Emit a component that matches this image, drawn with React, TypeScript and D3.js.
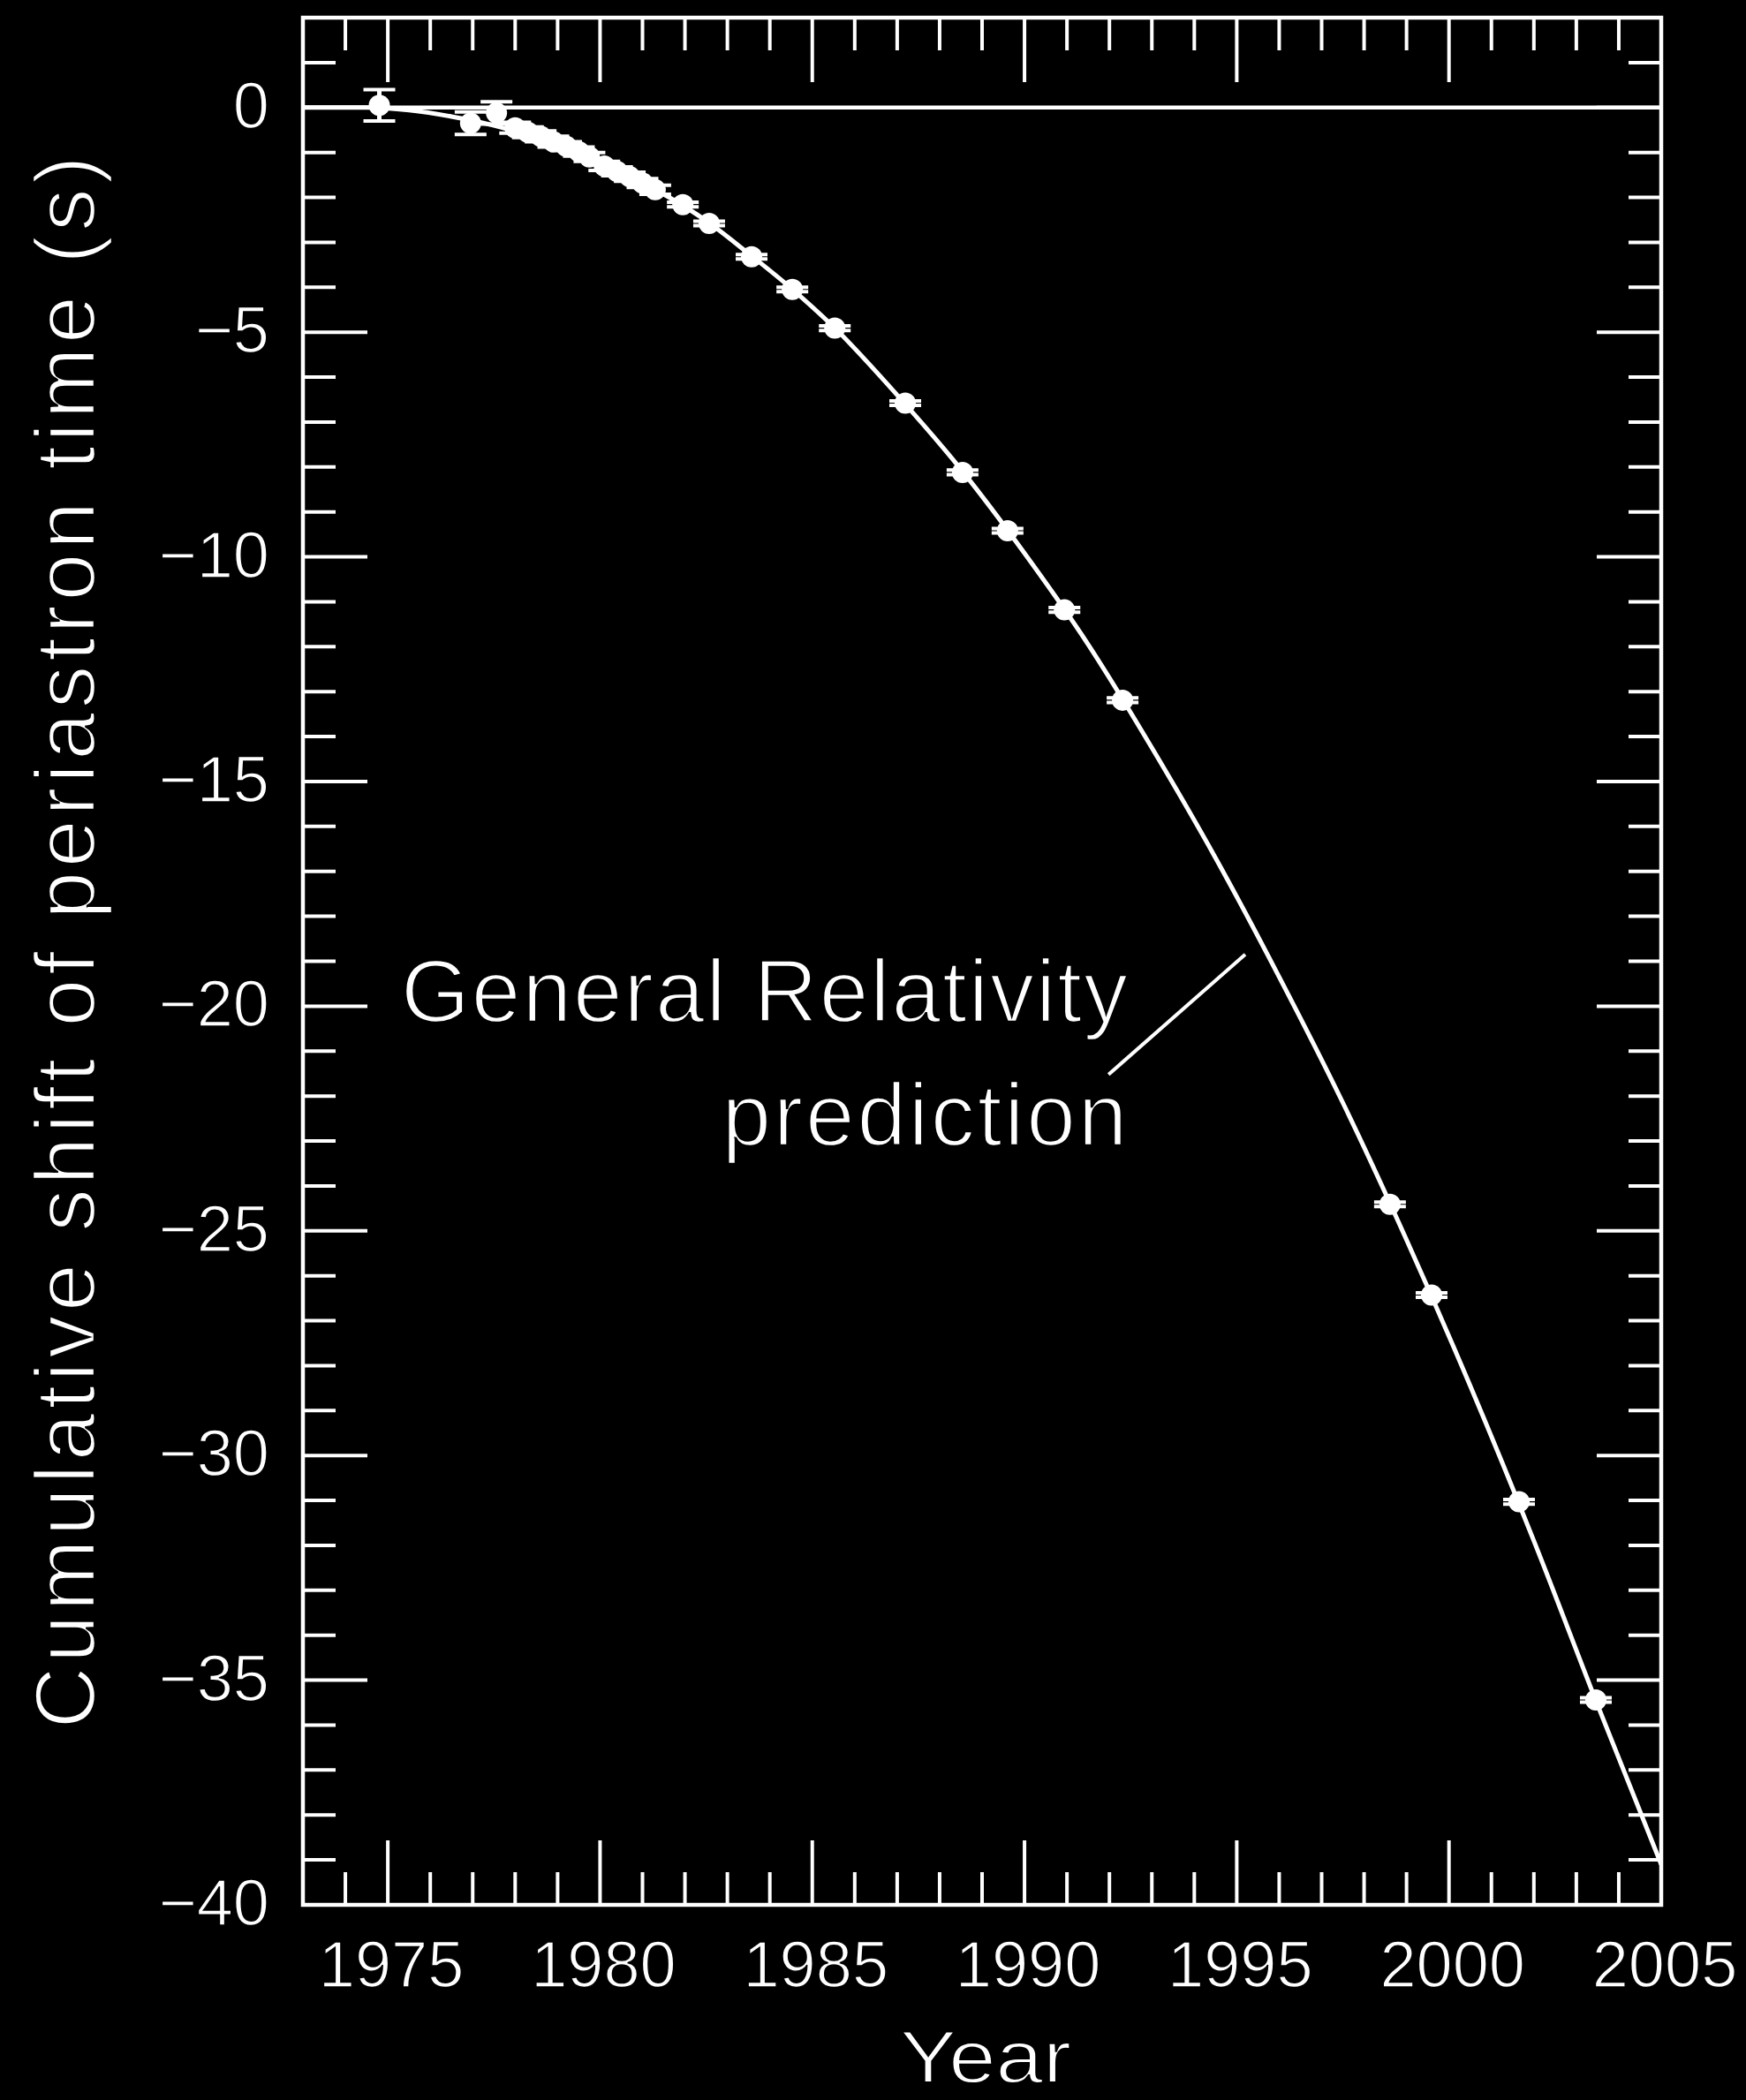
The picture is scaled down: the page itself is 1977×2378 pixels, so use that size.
import React, { useEffect } from "react";
import * as d3 from "d3";

// ---- Data ----
// GR prediction curve samples (year, cumulative shift in s)
const curveYears = [1973.0, 1974.5, 1975.5, 1976.5, 1977.5, 1978.5, 1979.5, 1980.5, 1981.5, 1982.5, 1983.5, 1984.5, 1985.5, 1987.0, 1988.5, 1990.0, 1991.5, 1993.0, 1994.5, 1996.0, 1997.5, 1999.0, 2000.5, 2002.0, 2003.5, 2005.0];
const curveShift = [0, 0, -0.06, -0.2, -0.4, -0.68, -1.02, -1.45, -1.93, -2.52, -3.25, -4.02, -4.88, -6.4, -8.05, -9.92, -11.95, -14.25, -16.7, -19.35, -22.15, -25.2, -28.45, -31.9, -35.55, -39.1];

// Measured points
const obsYears = [1974.8, 1976.95, 1977.56, 1978.0, 1978.3, 1978.6, 1978.9, 1979.2, 1979.5, 1979.75, 1980.1, 1980.4, 1980.7, 1981.0, 1981.3, 1981.95, 1982.57, 1983.57, 1984.53, 1985.53, 1987.19, 1988.54, 1989.6, 1990.94, 1992.31, 1998.61, 1999.59, 2001.65, 2003.46];
const obsShift = [0.05, -0.35, -0.12, -0.45, -0.55, -0.64, -0.76, -0.86, -0.98, -1.1, -1.3, -1.42, -1.54, -1.68, -1.83, -2.16, -2.58, -3.32, -4.05, -4.91, -6.58, -8.12, -9.42, -11.18, -13.19, -24.41, -26.43, -31.03, -35.44];
const obsErr = [0.35, 0.25, 0.25, 0.12, 0.12, 0.12, 0.12, 0.1, 0.1, 0.1, 0.1, 0.1, 0.1, 0.1, 0.1, 0.05, 0.05, 0.05, 0.05, 0.05, 0.05, 0.05, 0.05, 0.05, 0.05, 0.05, 0.05, 0.05, 0.05];

// Axis ticks
const xMajorTicks = [1975, 1980, 1985, 1990, 1995, 2000, 2005];
const xMinorTicks = d3.range(1973, 2006, 1);
const yMajorTicks = [0, -5, -10, -15, -20, -25, -30, -35, -40];
const yMinorTicks = d3.range(-40, 3, 1);

const xDomain = [1973, 2005];
const yDomain = [-40, 2];

// Annotation (data coordinates)
const annoLine1 = { text: "General Relativity", year: 1975.31, value: -20.34 };
const annoLine2 = { text: "prediction", year: 1982.87, value: -23.1 };
const leaderFrom = { year: 1991.98, value: -21.52 };
const leaderTo = { year: 1995.2, value: -18.85 };

const W = 1977;
const H = 2378;
const L = 343, R = 1881, T = 20, B = 2157;
const FONT = "'Liberation Sans', Arial, Helvetica, sans-serif";
const MINUS = "\u2212";

export default function App() {
  useEffect(() => {
    document.body.style.margin = "0";
    document.body.style.background = "#000";
  }, []);

  const x = d3.scaleLinear().domain(xDomain).range([L, R]);
  const y = d3.scaleLinear().domain(yDomain).range([B, T]);

  const curve = curveYears.map((t, i) => [t, curveShift[i]] as [number, number]);
  const linePath = d3
    .line<[number, number]>()
    .x((d) => x(d[0]))
    .y((d) => y(d[1]))
    .curve(d3.curveMonotoneX)(curve) as string;

  const majorLen = 73;
  const minorLen = 37;
  const stroke = "#fff";
  const fmt = (v: number) => (v < 0 ? MINUS + Math.abs(v) : String(v));

  return (
    <svg width={W} height={H} style={{ display: "block", background: "#000" }}>
      <rect x={0} y={0} width={W} height={H} fill="#000" />
      <defs>
        <clipPath id="plotClip">
          <rect x={L} y={T} width={R - L} height={B - T} />
        </clipPath>
      </defs>

      {/* zero line */}
      <line x1={L} x2={R} y1={y(0)} y2={y(0)} stroke={stroke} strokeWidth={4.5} />

      {/* GR curve */}
      <path d={linePath} fill="none" stroke={stroke} strokeWidth={5} clipPath="url(#plotClip)" />

      {/* data points */}
      <g>
        {obsYears.map((t, i) => {
          const cx = x(t);
          const cy = y(obsShift[i]);
          const yt = y(obsShift[i] + obsErr[i]);
          const yb = y(obsShift[i] - obsErr[i]);
          return (
            <g key={i}>
              <line x1={cx} x2={cx} y1={yt} y2={yb} stroke={stroke} strokeWidth={5} />
              <line x1={cx - 18} x2={cx + 18} y1={yt} y2={yt} stroke={stroke} strokeWidth={4} />
              <line x1={cx - 18} x2={cx + 18} y1={yb} y2={yb} stroke={stroke} strokeWidth={4} />
              <circle cx={cx} cy={cy} r={12} fill={stroke} />
            </g>
          );
        })}
      </g>

      {/* ticks */}
      <g stroke={stroke} strokeWidth={4}>
        {xMinorTicks.map((t) => {
          const len = xMajorTicks.includes(t) ? majorLen : minorLen;
          return (
            <g key={"xt" + t}>
              <line x1={x(t)} x2={x(t)} y1={B} y2={B - len} />
              <line x1={x(t)} x2={x(t)} y1={T} y2={T + len} />
            </g>
          );
        })}
        {yMinorTicks.map((v) => {
          const len = yMajorTicks.includes(v) ? majorLen : minorLen;
          return (
            <g key={"yt" + v}>
              <line x1={L} x2={L + len} y1={y(v)} y2={y(v)} />
              <line x1={R} x2={R - len} y1={y(v)} y2={y(v)} />
            </g>
          );
        })}
      </g>

      {/* frame */}
      <rect x={L} y={T} width={R - L} height={B - T} fill="none" stroke={stroke} strokeWidth={4.5} />

      {/* tick labels */}
      <g fill={stroke} fontFamily={FONT} fontSize={74} stroke="#000" strokeWidth={1.5}>
        {xMajorTicks.map((t) => (
          <text key={"xl" + t} x={x(t) + 4} y={2250} textAnchor="middle">
            {String(t)}
          </text>
        ))}
        {yMajorTicks.map((v) => (
          <text key={"yl" + v} x={305} y={y(v) + 23} textAnchor="end">
            {fmt(v)}
          </text>
        ))}
      </g>

      {/* axis titles */}
      <text
        x={(L + R) / 2 + 4}
        y={2358}
        textAnchor="middle"
        fill={stroke}
        stroke="#000"
        strokeWidth={2}
        fontFamily={FONT}
        fontSize={84}
        textLength={194}
        lengthAdjust="spacingAndGlyphs"
      >
        Year
      </text>
      <text
        transform={`translate(107, 1067) rotate(-90)`}
        textAnchor="middle"
        fill={stroke}
        stroke="#000"
        strokeWidth={2.5}
        fontFamily={FONT}
        fontSize={97}
        textLength={1781}
        lengthAdjust="spacing"
      >
        Cumulative shift of periastron time (s)
      </text>

      {/* annotation */}
      <text
        x={x(annoLine1.year)}
        y={y(annoLine1.value)}
        fill={stroke}
        stroke="#000"
        strokeWidth={2.5}
        fontFamily={FONT}
        fontSize={100}
        textLength={823}
        lengthAdjust="spacing"
      >
        {annoLine1.text}
      </text>
      <text
        x={x(annoLine2.year)}
        y={y(annoLine2.value)}
        fill={stroke}
        stroke="#000"
        strokeWidth={2.5}
        fontFamily={FONT}
        fontSize={100}
        textLength={459}
        lengthAdjust="spacing"
      >
        {annoLine2.text}
      </text>
      <line
        x1={x(leaderFrom.year)}
        y1={y(leaderFrom.value)}
        x2={x(leaderTo.year)}
        y2={y(leaderTo.value)}
        stroke={stroke}
        strokeWidth={4}
      />
    </svg>
  );
}
